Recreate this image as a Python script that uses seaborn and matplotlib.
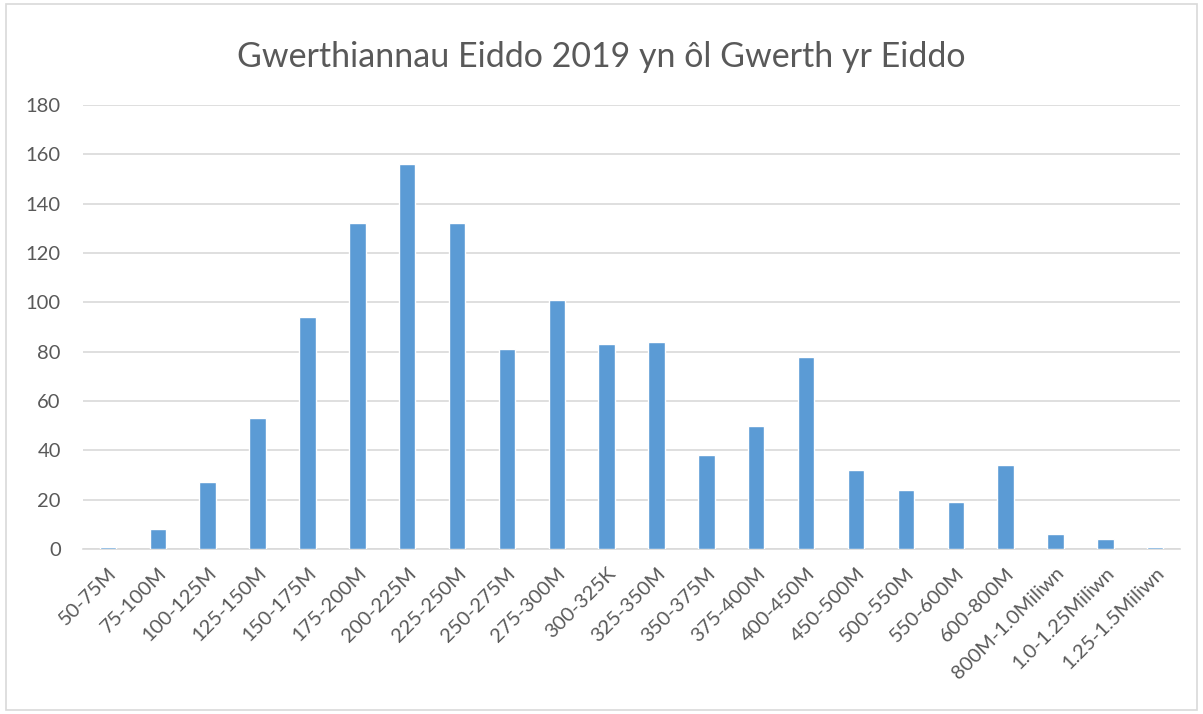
import matplotlib
matplotlib.use("Agg")
import matplotlib.pyplot as plt
import seaborn as sns
import pandas as pd

categories = ["50-75M", "75-100M", "100-125M", "125-150M", "150-175M", "175-200M",
              "200-225M", "225-250M", "250-275M", "275-300M", "300-325K", "325-350M",
              "350-375M", "375-400M", "400-450M", "450-500M", "500-550M", "550-600M",
              "600-800M", "800M-1.0Miliwn", "1.0-1.25Miliwn", "1.25-1.5Miliwn"]
sales = [1, 8, 27, 53, 94, 132, 156, 132, 81, 101, 83, 84,
         38, 50, 78, 32, 24, 19, 34, 6, 4, 1]
y_ticks = [0, 20, 40, 60, 80, 100, 120, 140, 160, 180]

df = pd.DataFrame({"band": categories, "count": sales})

sns.set_theme(style="white")
plt.rcParams["font.family"] = ["Lato", "DejaVu Sans"]

fig = plt.figure(figsize=(12.03, 7.14), dpi=100)
ax = fig.add_axes([0.069, 0.231, 0.912, 0.622])

sns.barplot(data=df, x="band", y="count", color="#5B9BD5", saturation=1,
            width=0.33, ax=ax, zorder=3)

ax.set_ylim(0, 180)
ax.set_yticks(y_ticks)
ax.set_xlim(-0.5, len(categories) - 0.5)
ax.grid(axis="y", color="#D9D9D9", linewidth=1.2, zorder=0)
for s in ["top", "right", "left"]:
    ax.spines[s].set_visible(False)
ax.spines["bottom"].set_color("#D9D9D9")
ax.spines["bottom"].set_linewidth(1.2)
ax.set_xlabel("")
ax.set_ylabel("")
ax.tick_params(axis="both", length=0, labelsize=14.5, colors="#595959")
ax.tick_params(axis="y", pad=16)
ax.tick_params(axis="x", pad=11)
plt.setp(ax.get_xticklabels(), rotation=45, ha="right", va="top",
         rotation_mode="anchor")

fig.text(0.5, 0.92, "Gwerthiannau Eiddo 2019 yn ôl Gwerth yr Eiddo",
         ha="center", va="center", fontsize=24.5, color="#595959")

# thin frame around the chart area
frame = plt.Rectangle((0.005, 0.005), 0.99, 0.99, transform=fig.transFigure,
                      fill=False, edgecolor="#D9D9D9", linewidth=1.2)
fig.patches.append(frame)

fig.savefig("out.png", dpi=100, facecolor="white")
